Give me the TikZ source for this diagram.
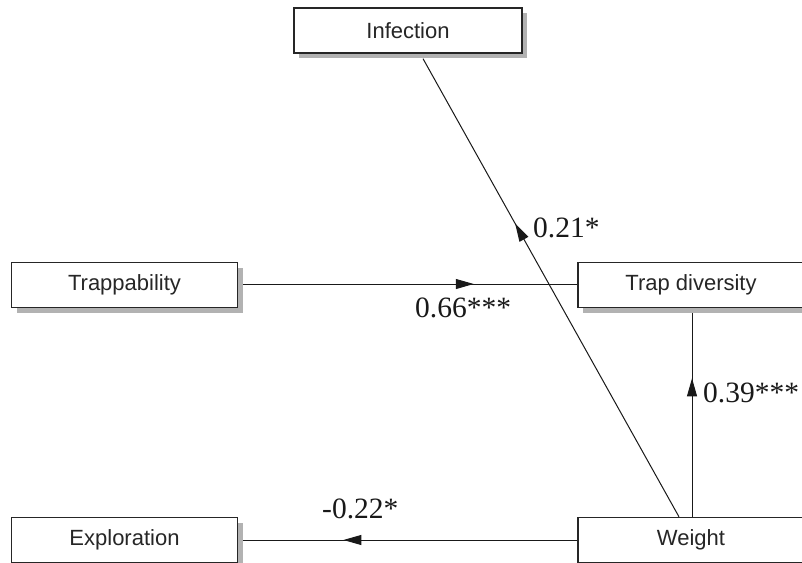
\documentclass[tikz,border=0pt]{standalone}
\usepackage{fontspec}
\setmainfont{Liberation Serif}
\newfontfamily\boxfont{Liberation Sans}
\usetikzlibrary{arrows.meta,decorations.markings,shadows}
\begin{document}
\begin{tikzpicture}[x=1pt,y=-1pt,
  varbox/.style={draw=black!85, line width=1.3pt, fill=white, minimum width=226pt, minimum height=45pt,
    inner sep=0pt, font=\boxfont\fontsize{22}{24}\selectfont, text=black!85,
    drop shadow={shadow xshift=5pt, shadow yshift=-5pt, fill=black!30, opacity=1}},
  conn/.style={draw=black!90, line width=1pt},
  midarrow/.style={decoration={markings, mark=at position #1 with {\arrow{Triangle[length=18pt,width=10pt]}}}, postaction={decorate}},
  coef/.style={inner sep=0pt, anchor=base west, font=\fontsize{29.5}{32}\selectfont, text=black!90}]
\clip (0,0) rectangle (802,562);
\fill[white] (0,0) rectangle (802,562);
\node[varbox, minimum width=228pt] (inf) at (408,30.5) {Infection};
\node[varbox] (trap) at (124.5,285) {Trappability};
\node[varbox] (div) at (691,285) {Trap diversity};
\node[varbox] (expl) at (124.5,540) {Exploration};
\node[varbox] (w) at (691,540) {Weight};
\draw[conn, midarrow=0.69] ([xshift=5pt,yshift=1pt]trap.east) -- ([yshift=1pt]div.west);
\draw[conn, midarrow=0.70] (w.west) -- ([xshift=5pt]expl.east);
\draw[conn, midarrow=0.68] ([xshift=1pt]w.north) -- ([xshift=1pt,yshift=-5pt]div.south);
\draw[conn, midarrow=0.64] ([xshift=-12pt]w.north) -- ([xshift=15pt,yshift=-5pt]inf.south);
\node[coef] (c1) at (415,317) {0.66***};
\node[coef] (c2) at (533,237) {0.21*};
\node[coef] (c3) at (703,402) {0.39***};
\node[coef] (c4) at (322,518) {-0.22*};
\end{tikzpicture}
\end{document}
